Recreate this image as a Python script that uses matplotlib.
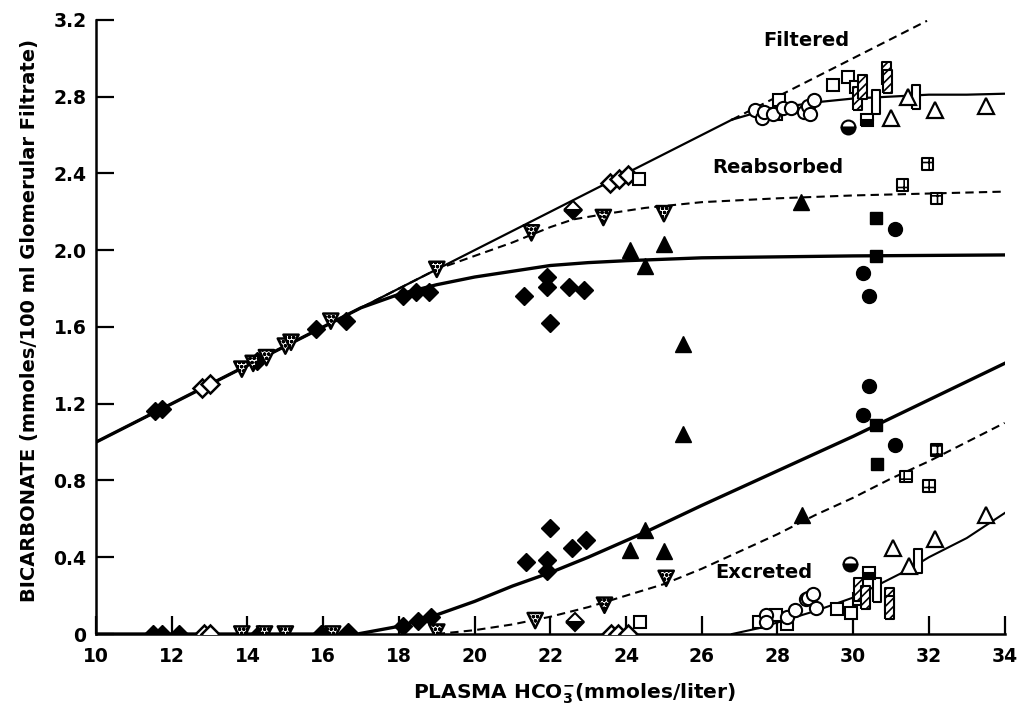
import matplotlib
matplotlib.use('Agg')
import matplotlib.pyplot as plt

plt.rcParams['font.family'] = 'DejaVu Sans'
plt.rcParams['font.weight'] = 'bold'
plt.rcParams['hatch.linewidth'] = 1.2

# ---- curves ----
filt_solid_x = [10, 26.8]
filt_solid_y = [1.0, 2.68]
filt_dash_x = [26.8, 31.95]
filt_dash_y = [2.68, 3.195]
filt_top_x = [26.8, 27.5, 28, 29, 30, 31, 32, 33, 34]
filt_top_y = [2.68, 2.72, 2.74, 2.77, 2.79, 2.80, 2.81, 2.81, 2.815]

reab_dash_x = [10, 19.0, 20, 21, 21.5, 22, 22.6, 23.5, 24.5, 26, 28, 30, 32, 34]
reab_dash_y = [1.0, 1.90, 1.97, 2.04, 2.08, 2.12, 2.16, 2.19, 2.22, 2.25, 2.27, 2.285, 2.295, 2.305]

reab_solid_x = [10, 16.3, 17, 18, 19, 20, 21, 22, 23, 24, 26, 28, 30, 34]
reab_solid_y = [1.0, 1.63, 1.70, 1.77, 1.82, 1.86, 1.89, 1.92, 1.935, 1.945, 1.96, 1.965, 1.97, 1.975]

exc_solid_x = [10, 16.9, 18, 19, 20, 21, 22, 23, 24.5, 26, 28, 30, 32, 34]
exc_solid_y = [0, 0, 0.04, 0.10, 0.17, 0.25, 0.32, 0.40, 0.53, 0.67, 0.85, 1.03, 1.22, 1.41]

exc_dash_x = [19, 20, 21, 22, 23, 24, 25, 26, 27, 28, 29, 30, 31, 32, 33, 34]
exc_dash_y = [0, 0.02, 0.05, 0.09, 0.14, 0.20, 0.26, 0.34, 0.43, 0.52, 0.62, 0.71, 0.81, 0.90, 1.0, 1.1]

exc_thin_x = [26.8, 27.5, 28, 29, 30, 31, 31.5, 32, 33, 34]
exc_thin_y = [0, 0.03, 0.06, 0.12, 0.19, 0.29, 0.34, 0.40, 0.50, 0.63]

# ---- data points ----
fd_x = [11.55, 11.75, 14.25, 15.8, 16.6, 18.1, 18.45, 18.8, 21.3, 21.9, 21.9, 22.5, 22.9, 22.0,
        11.5, 11.75, 12.2, 14.3, 15.95, 16.65, 18.1, 18.5, 18.85, 21.35, 21.9, 21.9, 22.0, 22.56, 22.95]
fd_y = [1.16, 1.17, 1.42, 1.59, 1.63, 1.76, 1.78, 1.78, 1.76, 1.81, 1.86, 1.81, 1.79, 1.62,
        0, 0, 0, 0, 0, 0.01, 0.04, 0.07, 0.09, 0.375, 0.385, 0.33, 0.55, 0.45, 0.49]

od_x = [12.8, 13.0, 23.57, 23.81, 24.05, 12.85, 13.0, 23.6, 23.8, 24.05]
od_y = [1.28, 1.30, 2.35, 2.37, 2.39, 0, 0, 0, 0, 0]

sv_x = [13.85, 14.15, 14.5, 15.0, 15.15, 16.2, 19.0, 21.5, 23.4, 25.0,
        13.85, 14.45, 15.0, 16.25, 19.0, 21.6, 23.43, 25.06]
sv_y = [1.38, 1.41, 1.44, 1.50, 1.52, 1.63, 1.90, 2.09, 2.17, 2.19,
        0, 0, 0, 0, 0.01, 0.07, 0.15, 0.29]

dd_x = [22.6, 22.65]
dd_y = [2.21, 0.06]

os_x = [24.33, 24.36, 27.95, 28.05, 29.46, 29.85, 30.08, 30.15, 29.95, 29.56, 28.24, 27.97, 27.52]
os_y = [2.37, 0.06, 2.71, 2.78, 2.86, 2.90, 2.85, 0.18, 0.11, 0.13, 0.05, 0.10, 0.06]

oc_x = [27.4, 27.6, 27.65, 27.87, 28.14, 28.37, 28.7, 28.8, 28.85, 28.97,
        27.7, 27.7, 28.24, 28.45, 28.76, 28.8, 28.95, 29.03]
oc_y = [2.73, 2.69, 2.72, 2.71, 2.74, 2.74, 2.72, 2.75, 2.71, 2.78,
        0.10, 0.06, 0.09, 0.125, 0.18, 0.19, 0.21, 0.135]

hr_x = [30.12, 30.25, 30.88, 30.9, 30.15, 30.33, 30.95, 30.95]
hr_y = [2.79, 2.85, 2.92, 2.88, 0.23, 0.19, 0.18, 0.14]

orr_x = [30.6, 31.67, 31.7, 30.63]
orr_y = [2.77, 2.80, 0.38, 0.23]

ot_x = [31.45, 31.0, 32.15, 33.5, 33.5, 32.17, 31.05, 31.47]
ot_y = [2.80, 2.69, 2.73, 2.75, 0.62, 0.495, 0.45, 0.355]

ft_x = [24.1, 25.0, 24.5, 25.5, 25.5, 24.1, 24.5, 25.0, 28.63, 28.66]
ft_y = [2.0, 2.03, 1.92, 1.51, 1.04, 0.44, 0.54, 0.43, 2.25, 0.62]

fc_x = [31.1, 30.25, 30.43, 30.43, 30.27, 31.1]
fc_y = [2.11, 1.88, 1.76, 1.29, 1.14, 0.985]

fs_x = [30.6, 30.6, 30.6, 30.63]
fs_y = [2.17, 1.97, 1.09, 0.885]

hc_x = [29.85, 29.92]
hc_y = [2.64, 0.365]

hs_x = [30.37, 30.42]
hs_y = [2.68, 0.32]

ss_x = [31.96, 31.3, 32.2, 32.2, 31.4, 32.0]
ss_y = [2.45, 2.34, 2.27, 0.96, 0.82, 0.77]

x_ticks = [10, 12, 14, 16, 18, 20, 22, 24, 26, 28, 30, 32, 34]
y_ticks = [0, 0.4, 0.8, 1.2, 1.6, 2.0, 2.4, 2.8, 3.2]
y_ticklabels = ['0', '0.4', '0.8', '1.2', '1.6', '2.0', '2.4', '2.8', '3.2']

fig = plt.figure(figsize=(10.22, 7.08), dpi=100)
ax = fig.add_axes([0.094, 0.1045, 0.889, 0.8675])
ax.set_xlim(10, 34)
ax.set_ylim(0, 3.2)

# curves
dash = (0, (4, 2.5))
ax.plot(filt_solid_x, filt_solid_y, 'k-', lw=1.6, zorder=2)
ax.plot(filt_dash_x, filt_dash_y, color='k', ls=dash, lw=1.5, zorder=2)
ax.plot(filt_top_x, filt_top_y, 'k-', lw=1.6, zorder=2)
ax.plot(reab_dash_x, reab_dash_y, color='k', ls=dash, lw=1.5, zorder=2)
ax.plot(reab_solid_x, reab_solid_y, 'k-', lw=2.4, zorder=2)
ax.plot(exc_solid_x, exc_solid_y, 'k-', lw=2.4, zorder=2)
ax.plot(exc_dash_x, exc_dash_y, color='k', ls=dash, lw=1.5, zorder=2)
ax.plot(exc_thin_x, exc_thin_y, 'k-', lw=1.5, zorder=2)

# markers
ax.plot(fd_x, fd_y, 'D', ms=9.5, mfc='k', mec='k', ls='none', zorder=3)
ax.plot(od_x, od_y, 'D', ms=9.5, mfc='w', mec='k', mew=1.8, ls='none', zorder=3)
ax.scatter(sv_x, sv_y, marker='v', s=120, facecolor='w', edgecolor='k', hatch='oooo', lw=1.8, zorder=3)
ax.plot(dd_x, dd_y, 'D', ms=9.5, mfc='k', mec='k', fillstyle='bottom', mfcalt='w', mew=1.5, ls='none', zorder=3)
ax.plot(os_x, os_y, 's', ms=9, mfc='w', mec='k', mew=1.5, ls='none', zorder=3)
ax.plot(oc_x, oc_y, 'o', ms=9.5, mfc='w', mec='k', mew=1.5, ls='none', zorder=3)
rect = [(-0.38, -1), (0.38, -1), (0.38, 1), (-0.38, 1), (-0.38, -1)]
ax.scatter(hr_x, hr_y, marker=rect, s=280, facecolor='w', edgecolor='k', hatch='////', lw=1.5, zorder=3)
ax.scatter(orr_x, orr_y, marker=rect, s=280, facecolor='w', edgecolor='k', lw=1.5, zorder=3)
ax.plot(ot_x, ot_y, '^', ms=11, mfc='w', mec='k', mew=1.6, ls='none', zorder=3)
ax.plot(ft_x, ft_y, '^', ms=11, mfc='k', mec='k', ls='none', zorder=3)
ax.plot(fc_x, fc_y, 'o', ms=10, mfc='k', mec='k', ls='none', zorder=3)
ax.plot(fs_x, fs_y, 's', ms=9, mfc='k', mec='k', ls='none', zorder=3)
ax.plot(hc_x, hc_y, 'o', ms=10, mfc='k', mec='k', fillstyle='bottom', mfcalt='w', mew=1.5, ls='none', zorder=3)
ax.plot(hs_x, hs_y, 's', ms=8.5, mfc='k', mec='k', fillstyle='bottom', mfcalt='w', mew=1.5, ls='none', zorder=3)
ax.scatter(ss_x, ss_y, marker='s', s=70, facecolor='w', edgecolor='k', hatch='++', lw=1.5, zorder=3)

# labels on curves
ax.text(28.76, 3.09, 'Filtered', fontsize=14, fontweight='bold', ha='center', va='center')
ax.text(28.0, 2.43, 'Reabsorbed', fontsize=14, fontweight='bold', ha='center', va='center')
ax.text(27.65, 0.32, 'Excreted', fontsize=14, fontweight='bold', ha='center', va='center')

# axes styling
for side in ['top', 'right']:
    ax.spines[side].set_visible(False)
ax.spines['left'].set_linewidth(1.8)
ax.spines['bottom'].set_linewidth(1.8)
ax.set_xticks(x_ticks)
ax.set_yticks(y_ticks)
ax.set_yticklabels(y_ticklabels)
ax.tick_params(direction='in', length=13, width=1.6, labelsize=13.5)
ax.tick_params(axis='x', pad=9)
ax.tick_params(axis='y', pad=7)
for lbl in ax.get_xticklabels() + ax.get_yticklabels():
    lbl.set_fontweight('bold')

ax.set_xlabel(r'PLASMA HCO$_\mathbf{3}^{\mathbf{-}}$(mmoles/liter)', fontsize=14.5, fontweight='bold')
ax.xaxis.set_label_coords(0.527, -0.078)
ax.set_ylabel('BICARBONATE (mmoles/100 ml Glomerular Filtrate)', fontsize=14, fontweight='bold')
ax.yaxis.set_label_coords(-0.063, 0.51)

fig.savefig('out.png', dpi=100)
